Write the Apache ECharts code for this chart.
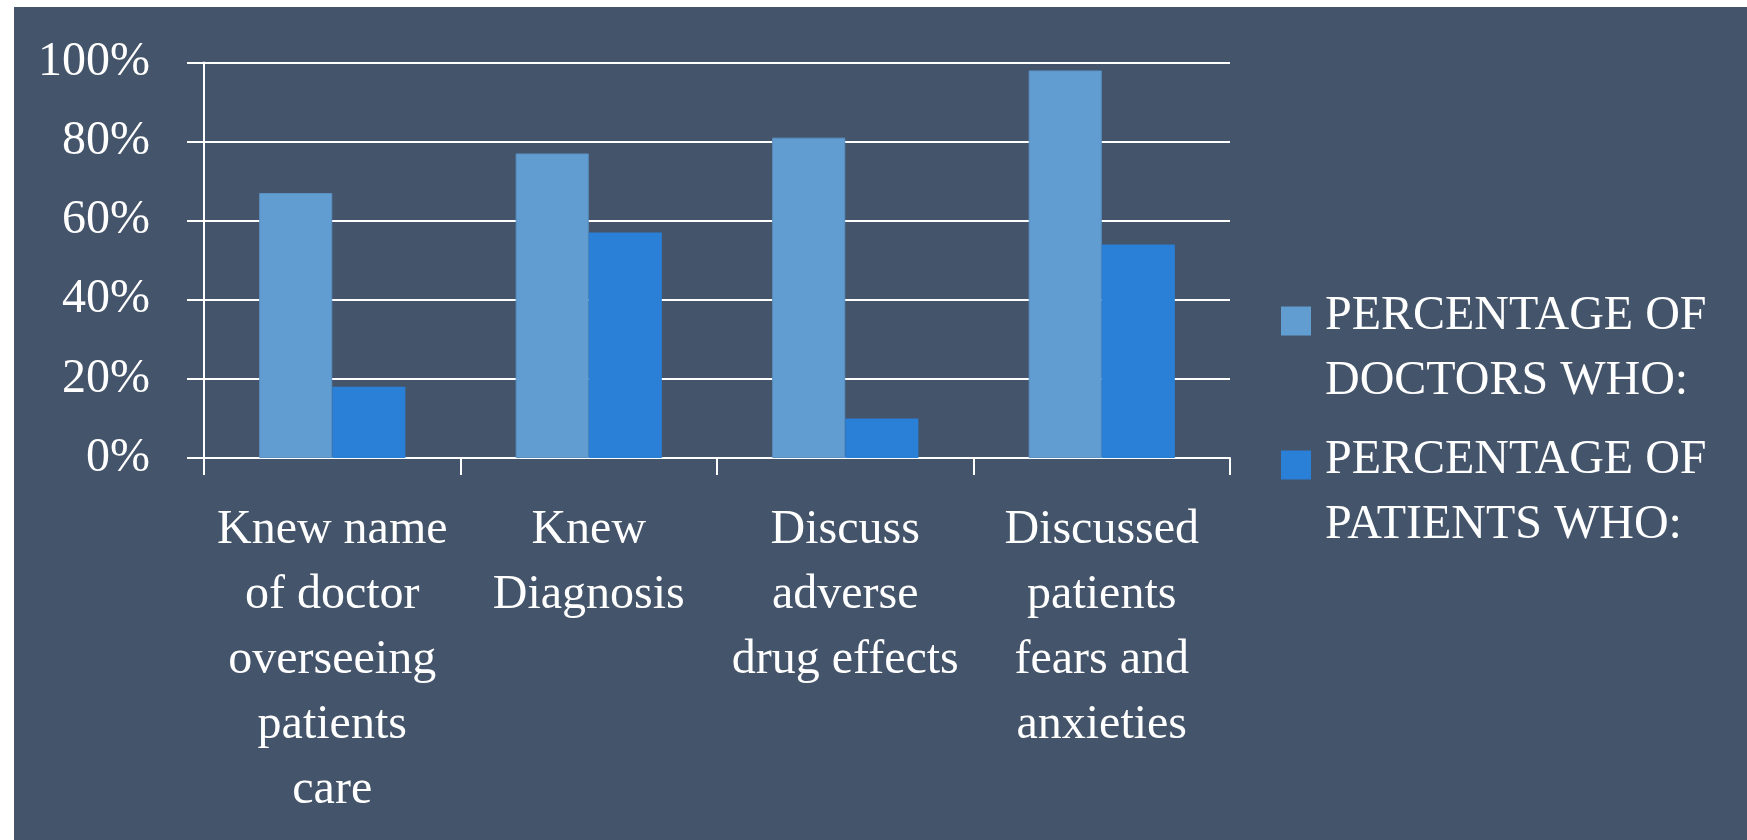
<!DOCTYPE html>
<html>
<head>
<meta charset="utf-8">
<script src="https://cdn.jsdelivr.net/npm/echarts@6/dist/echarts.min.js"></script>
<style>
html,body{margin:0;padding:0;background:#ffffff;}
#chart{width:1747px;height:840px;}
</style>
</head>
<body>
<div id="chart"></div>
<script>
const categories = [
  "Knew name\nof doctor\noverseeing\npatients\ncare",
  "Knew\nDiagnosis",
  "Discuss\nadverse\ndrug effects",
  "Discussed\npatients\nfears and\nanxieties"
];
const seriesNames = ["PERCENTAGE OF DOCTORS WHO:", "PERCENTAGE OF PATIENTS WHO:"];
const doctorsValues = [67, 77, 81, 98];
const patientsValues = [18, 57, 10, 54];
const yTicks = [0, 20, 40, 60, 80, 100];

const FONT = "'Liberation Serif', 'DejaVu Serif', serif";
const chart = echarts.init(document.getElementById('chart'), null, {renderer: 'canvas'});
chart.setOption({
  backgroundColor: '#ffffff',
  animation: false,
  graphic: [{
    type: 'rect', z: -100, silent: true,
    shape: {x: 14, y: 7, width: 1733, height: 833},
    style: {fill: '#44546a'}
  }],
  grid: {left: 204, right: 517, top: 62.5, bottom: 382, containLabel: false},
  legend: {
    orient: 'vertical',
    left: 1281,
    top: 284,
    padding: 0,
    itemGap: 14,
    itemWidth: 39,
    itemHeight: 85,
    icon: 'path://M0,0L30,0L30,29L0,29Z M39,84.99L39,85L38.99,85Z',
    itemStyle: {borderWidth: 0},
    formatter: function (name) { return name.replace(' OF ', ' OF\n'); },
    textStyle: {color: '#ffffff', fontFamily: FONT, fontSize: 48, lineHeight: 65},
    data: seriesNames
  },
  xAxis: {
    type: 'category',
    data: categories,
    boundaryGap: true,
    axisLine: {show: true, lineStyle: {color: '#ffffff', width: 2}},
    axisTick: {show: true, length: 17, lineStyle: {color: '#ffffff', width: 2}},
    axisLabel: {
      color: '#ffffff', fontFamily: FONT, fontSize: 48, lineHeight: 65,
      margin: 40, interval: 0, align: 'center'
    }
  },
  yAxis: {
    type: 'value',
    min: yTicks[0],
    max: yTicks[yTicks.length - 1],
    interval: 20,
    axisLine: {show: true, lineStyle: {color: '#ffffff', width: 2}},
    axisTick: {show: true, length: 17, lineStyle: {color: '#ffffff', width: 2}},
    splitLine: {show: true, lineStyle: {color: '#ffffff', width: 2}},
    axisLabel: {
      color: '#ffffff', fontFamily: FONT, fontSize: 48, margin: 54,
      formatter: '{value}%'
    }
  },
  series: [
    {
      name: seriesNames[0], type: 'bar', data: doctorsValues,
      barGap: '0%', barCategoryGap: '43%',
      itemStyle: {color: '#629dd2', borderColor: '#5a90c2', borderWidth: 1}
    },
    {
      name: seriesNames[1], type: 'bar', data: patientsValues,
      barGap: '0%', barCategoryGap: '43%',
      itemStyle: {color: '#2a7fd7'}
    }
  ]
});
</script>
</body>
</html>
